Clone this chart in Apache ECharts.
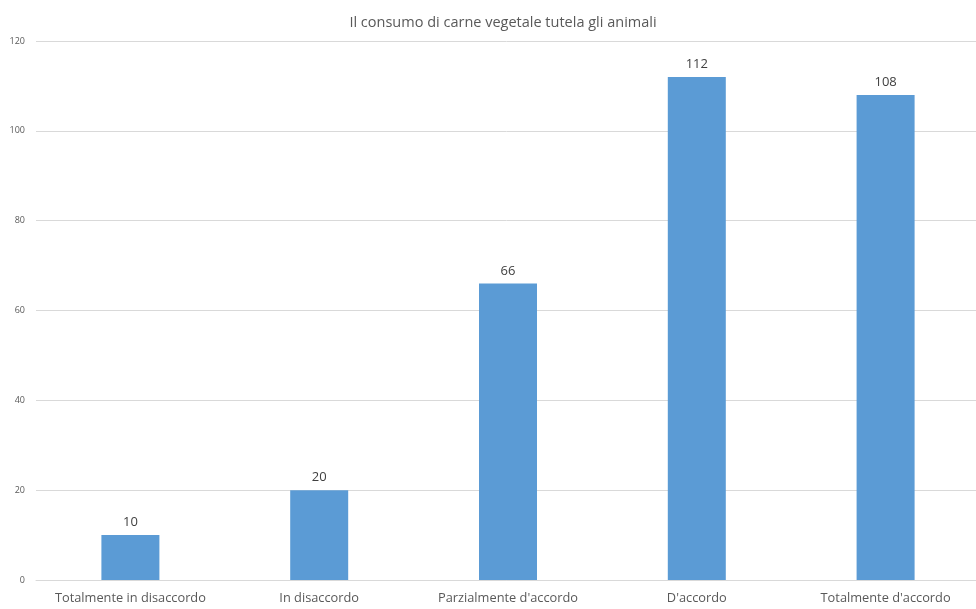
<!DOCTYPE html>
<html><head><meta charset="utf-8">
<script src="https://cdn.jsdelivr.net/npm/echarts@6/dist/echarts.min.js"></script>
<style>html,body{margin:0;padding:0;background:#fff}#c{width:976px;height:609px}</style>
</head><body><div id="c"></div>
<script>
const categories = ["Totalmente in disaccordo", "In disaccordo", "Parzialmente d'accordo", "D'accordo", "Totalmente d'accordo"];
const values = [10, 20, 66, 112, 108];
const yTicks = [0, 20, 40, 60, 80, 100, 120];

const chart = echarts.init(document.getElementById('c'));
chart.setOption({
  animation: false,
  title: {
    text: 'Il consumo di carne vegetale tutela gli animali',
    left: 498, top: 10, textAlign: 'center',
    textStyle: {fontFamily: 'Open Sans', fontSize: 14.5, fontWeight: 'normal', color: '#595959'}
  },
  grid: {left: 36, width: 944, top: 41, bottom: 29, outerBoundsMode: 'none', containLabel: false},
  xAxis: {
    type: 'category', data: categories,
    axisLine: {lineStyle: {color: '#d9d9d9'}},
    axisTick: {show: false},
    axisLabel: {fontFamily: 'Open Sans', fontSize: 12.8, color: '#595959', margin: 12, interval: 0}
  },
  yAxis: {
    type: 'value', min: yTicks[0], max: yTicks[yTicks.length-1], interval: 20,
    axisLine: {show: false}, axisTick: {show: false},
    splitLine: {lineStyle: {color: '#d9d9d9'}},
    axisLabel: {fontFamily: 'Open Sans', fontSize: 9, color: '#595959', margin: 11}
  },
  series: [{
    type: 'bar', data: values, barWidth: 58,
    itemStyle: {color: '#5b9bd5'},
    label: {show: true, position: 'top', fontFamily: 'Open Sans', fontSize: 13, color: '#404040', distance: 6}
  }]
});
</script></body></html>
